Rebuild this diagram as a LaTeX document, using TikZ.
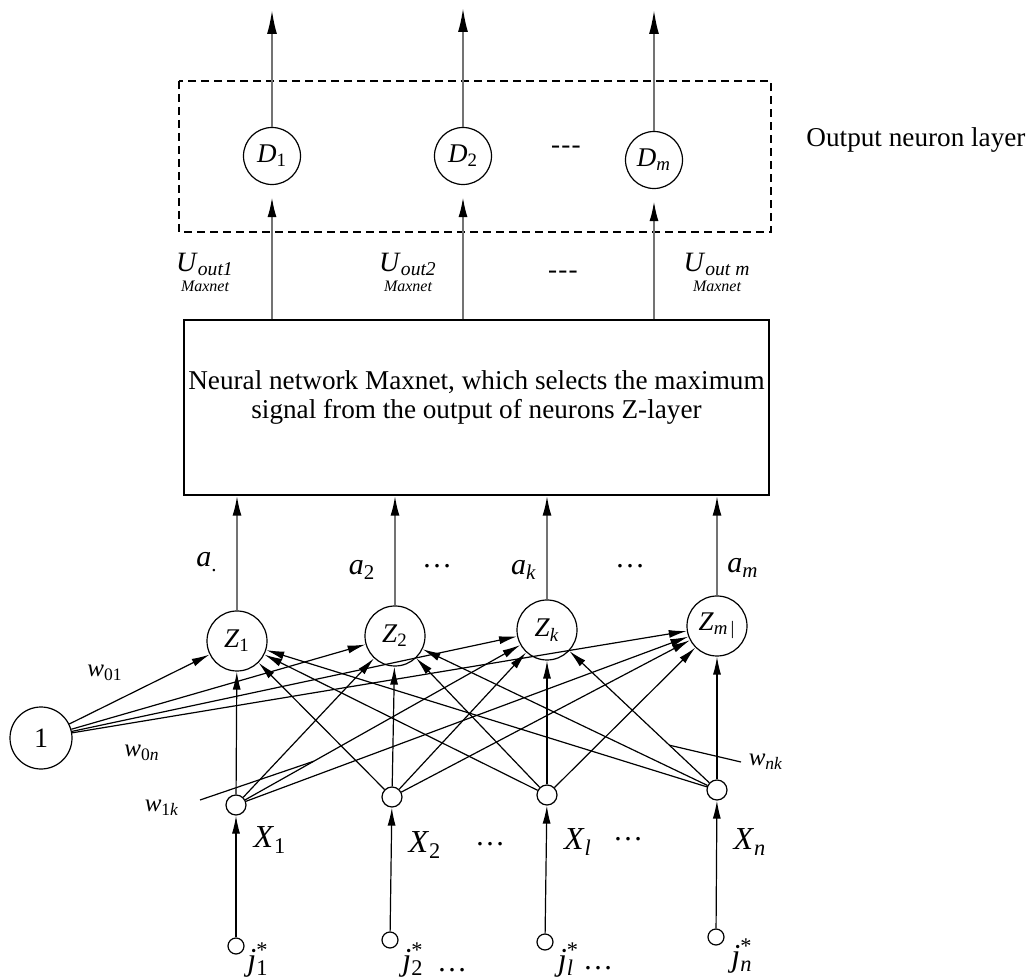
\documentclass[tikz,border=0pt]{standalone}
\usepackage{fontspec}
\setmainfont{Liberation Serif}
\usetikzlibrary{arrows.meta,calc}
\newcommand{\iv}[2]{\textit{#1}\textsubscript{#2}}
\newcommand{\ivs}[2]{\textit{#1}\rlap{\textsuperscript{*}}\textsubscript{#2}}
\newcommand{\cdts}{\raisebox{0.3em}{…}}
\newcommand{\dsh}{\mbox{-{}\kern0.6pt-{}\kern0.6pt-}}
\begin{document}
\begin{tikzpicture}[x=0.5pt,y=-0.5pt,
  neuron/.style={draw,circle,line width=0.6pt,inner sep=0pt,minimum size=30pt,font=\fontsize{13.5}{15}\selectfont},
  dneuron/.style={neuron,minimum size=28.5pt},
  inp/.style={draw,circle,line width=0.6pt,inner sep=0pt,minimum size=10pt},
  src/.style={draw,circle,line width=0.6pt,inner sep=0pt,minimum size=8pt},
  arr/.style={line width=0.6pt,-{Latex[length=9pt,width=4pt]}},
  garr/.style={line width=1pt,draw=black!55,-{Latex[length=10pt,width=4.5pt,color=black]}},
  tarr/.style={line width=1pt,draw=black!55,-{Latex[length=12pt,width=5pt,color=black]}},
  lead/.style={line width=0.6pt},
  lab/.style={inner sep=0pt,font=\fontsize{16}{18}\selectfont},
  alab/.style={inner sep=0pt,font=\fontsize{15}{17}\selectfont},
  wlab/.style={inner sep=0pt,font=\fontsize{12.5}{14}\selectfont},
  ulab/.style={inner sep=0pt,align=center,font=\fontsize{14}{13}\selectfont},
  txt/.style={inner sep=0pt,align=center,font=\fontsize{13.6}{14.5}\selectfont}
]
\useasboundingbox (0,0) rectangle (1029,978);

% output layer
\draw[dashed,line width=0.6pt,dash pattern=on 4pt off 2.5pt] (179,81) rectangle (771,232);
\node[dneuron] (D1) at (272,156) {\iv{D}{1}};
\node[dneuron] (D2) at (463,156) {\iv{D}{2}};
\node[dneuron] (Dm) at (654,160) {\iv{D}{\textit{m}}};
\node[txt] (dd) at (566,150) {\dsh};
\node[txt] (outl) at (916,140) {Output neuron layer};
\coordinate (o1) at (272,10);
\coordinate (o2) at (463,8);
\coordinate (om) at (654,10);
\draw[tarr] (D1) -- (o1);
\draw[tarr] (D2) -- (o2);
\draw[tarr] (Dm) -- (om);

% Maxnet box
\node[draw,line width=0.7pt,minimum width=292.5pt,minimum height=87.5pt,inner sep=0pt] (mbox) at (476.5,407.5) {};
\node[txt] (mtext) at (476.5,398) {Neural network Maxnet, which selects the maximum\\signal from the output of neurons Z-layer};
\draw[garr,shorten >=6pt] (D1 |- mbox.north) -- (D1);
\draw[garr,shorten >=6pt] (D2 |- mbox.north) -- (D2);
\draw[garr,shorten >=6pt] (Dm |- mbox.north) -- (Dm);

\node[ulab] (U1) at (205,272) {\iv{U}{\textit{out1}}\\[-3pt]{\fontsize{8}{8}\selectfont\itshape Maxnet}};
\node[ulab] (U2) at (408,272) {\iv{U}{\textit{out2}}\\[-3pt]{\fontsize{8}{8}\selectfont\itshape Maxnet}};
\node[txt] (ud) at (563,275) {\dsh};
\node[ulab] (Um) at (717,272) {\iv{U}{\textit{out m}}\\[-3pt]{\fontsize{8}{8}\selectfont\itshape Maxnet}};

% Z layer
\node[neuron] (Z1) at (237,641) {\iv{Z}{1}};
\node[neuron] (Z2) at (395,636) {\iv{Z}{2}};
\node[neuron] (Zk) at (547,630) {\iv{Z}{\textit{k}}};
\node[neuron] (Zm) at (717,626) {\iv{Z}{\textit{m}\,|}};
\foreach \z in {Z1,Z2,Zk,Zm} \draw[garr] (\z) -- (\z |- mbox.south);

\node[alab] (a1) at (207,562) {\iv{a}{.}};
\node[alab] (a2) at (362,570) {\iv{a}{2}};
\node[alab] (ad1) at (437,570) {\cdts};
\node[alab] (ak) at (524,570) {\iv{a}{\textit{k}}};
\node[alab] (ad2) at (630,570) {\cdts};
\node[alab] (am) at (743,568) {\iv{a}{\textit{m}}};

% bias
\node[neuron,minimum size=31pt,font=\fontsize{14}{15}\selectfont] (one) at (41,738) {1};

% input layer
\node[inp] (X1) at (236,805) {};
\node[inp] (X2) at (392,797) {};
\node[inp] (Xl) at (547,795) {};
\node[inp] (Xn) at (717,790) {};

\foreach \z in {Z1,Z2,Zk,Zm} \draw[arr] (one) -- (\z);
\foreach \x in {X1,X2,Xl,Xn}
  \foreach \z in {Z1,Z2,Zk,Zm}
    \draw[arr] (\x) -- (\z);

\node[wlab] (w01) at (105,673) {\iv{w}{01}};
\node[wlab] (w0n) at (142,753) {\iv{w}{0\textit{n}}};
\node[wlab] (w1k) at (162,808) {\iv{w}{1\textit{k}}};
\node[wlab] (wnk) at (766,762) {\iv{w}{\textit{nk}}};
\coordinate (l1) at (200,800);
\coordinate (l2) at (741,762);
\draw[lead] (l1) -- ($(X1)!0.25!(Zk)$);
\draw[lead] ($(Xn)!0.28!(Zk)$) -- (l2);

\node[lab] (lX1) at (270,840) {\iv{X}{1}};
\node[lab] (lX2) at (425,845) {\iv{X}{2}};
\node[alab] (xd1) at (490,848) {\cdts};
\node[lab] (lXl) at (578,842) {\iv{X}{\textit{l}}};
\node[alab] (xd2) at (628,843) {\cdts};
\node[lab] (lXn) at (750,842) {\iv{X}{\textit{n}}};

% sources
\node[src] (j1) at (236,946) {};
\node[src] (j2) at (390,940) {};
\node[src] (jl) at (545,942) {};
\node[src] (jn) at (716,937) {};
\draw[arr] (j1) -- (X1);
\draw[arr] (j2) -- (X2);
\draw[arr] (jl) -- (Xl);
\draw[arr] (jn) -- (Xn);

\node[lab] (lj1) at (258,960) {\ivs{j}{1}};
\node[lab] (lj2) at (413,960) {\ivs{j}{2}};
\node[alab] (jd1) at (452,970) {…};
\node[lab] (ljl) at (566,960) {\ivs{j}{\textit{l}}};
\node[alab] (jd2) at (598,968) {…};
\node[lab] (ljn) at (742,956) {\ivs{j}{\textit{n}}};
\end{tikzpicture}
\end{document}
